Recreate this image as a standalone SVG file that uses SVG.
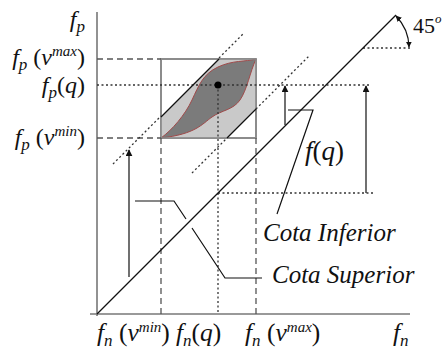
<svg xmlns="http://www.w3.org/2000/svg" width="445" height="354" viewBox="0 0 445 354">
<style>
text{font-family:'Liberation Serif','Times New Roman',serif}
.t{font-style:italic;fill:#111}
.m{font-size:24px}
.b{font-size:25.5px}
.s{font-size:17px}
.u{font-size:15px}
.r{font-style:normal}
.dash{stroke:#555;stroke-width:1.3;stroke-dasharray:6 4;fill:none}
.dot{stroke:#333;stroke-width:1.3;stroke-dasharray:2 2.5;fill:none}
.ln{stroke:#111;stroke-width:1.2;fill:none}
.ax{stroke:#777;stroke-width:1.6;fill:none}
</style>
<defs>
<marker id="ah" viewBox="0 0 10 10" refX="9" refY="5" markerWidth="7" markerHeight="7" orient="auto-start-reverse" markerUnits="userSpaceOnUse">
<path d="M0,0 L10,5 L0,10 Z" fill="#111"/>
</marker>
<marker id="as" viewBox="0 0 10 10" refX="9" refY="5" markerWidth="6" markerHeight="6" orient="auto-start-reverse" markerUnits="userSpaceOnUse">
<path d="M0,0 L10,5 L0,10 Z" fill="#111"/>
</marker>
</defs>

<g id="axes">
<line class="ax" x1="97" y1="12" x2="97" y2="316"/>
<line class="ax" x1="90" y1="314" x2="410" y2="314"/>
</g>

<g id="region">
<rect x="161" y="59" width="95" height="79" fill="#fff" stroke="#888" stroke-width="1.6"/>
<polygon points="161,138 161,117 219,59 256,59 256,108 227,138" fill="#c9c9c9"/>
<path d="M161,138 C172,130 185,115 192,100 S203,74 218,67 S245,62 256,59 C250,72 247,90 240,100 S222,110 212,117 S196,134 161,138 Z" fill="#7b7b7b" stroke="#a04a4a" stroke-width="1"/>
<rect x="161" y="59" width="95" height="79" fill="none" stroke="#888" stroke-width="1.6"/>
</g>

<g id="connectors">
<line class="dash" x1="97" y1="59" x2="161" y2="59"/>
<line class="dash" x1="97" y1="138" x2="161" y2="138"/>
<line class="dash" x1="161" y1="138" x2="161" y2="314"/>
<line class="dash" x1="256" y1="138" x2="256" y2="314"/>
<line class="dot" x1="97" y1="85" x2="370" y2="85"/>
<line class="dot" x1="218" y1="85" x2="218" y2="314"/>
<line class="dot" x1="218" y1="193" x2="373" y2="193"/>
<line class="dot" x1="363" y1="48" x2="410" y2="48"/>
<line class="dot" x1="113" y1="164" x2="161" y2="116"/>
<line class="dot" x1="219" y1="58" x2="243" y2="34"/>
<line class="dot" x1="192" y1="173" x2="227" y2="138"/>
<line class="dot" x1="256" y1="109" x2="310" y2="55"/>
<line class="ln" x1="161" y1="117" x2="219" y2="59"/>
<line class="ln" x1="227" y1="138" x2="256" y2="109"/>
<line class="ln" x1="97" y1="314" x2="396" y2="15"/>
<line class="ln" x1="129" y1="277" x2="129" y2="150" marker-end="url(#ah)"/>
<line class="ln" x1="285" y1="125" x2="285" y2="86" marker-end="url(#ah)"/>
<line class="ln" x1="366" y1="193" x2="366" y2="86" marker-end="url(#ah)"/>
<path class="ln" d="M396,16 A46,46 0 0 1 409,47" marker-start="url(#as)" marker-end="url(#as)"/>
<polyline class="ln" points="288,110 313,110 277,214"/>
<path class="ln" d="M135,201 H174 L186,219 M192,228 L225,278 H262"/>
</g>

<g id="point"><circle cx="218" cy="85" r="3.5" fill="#000"/></g>

<g id="labels">
<text class="t m" x="85" y="27" text-anchor="end">f<tspan class="s" dy="5">p</tspan></text>
<text class="t m" x="85" y="65" text-anchor="end">f<tspan class="s" dy="5">p</tspan><tspan class="r" dy="-5"> (</tspan>v<tspan class="u" dy="-9">max</tspan><tspan class="r" dy="9">)</tspan></text>
<text class="t m" x="85" y="93" text-anchor="end">f<tspan class="s" dy="5">p</tspan><tspan class="r" dy="-5">(</tspan>q<tspan class="r">)</tspan></text>
<text class="t m" x="85" y="145" text-anchor="end">f<tspan class="s" dy="5">p</tspan><tspan class="r" dy="-5"> (</tspan>v<tspan class="u" dy="-9">min</tspan><tspan class="r" dy="9">)</tspan></text>
<text class="t b" x="97" y="341">f<tspan class="s" dy="5">n</tspan><tspan class="r" dy="-5"> (</tspan>v<tspan class="u" dy="-9">min</tspan><tspan class="r" dy="9">)</tspan></text>
<text class="t b" x="176" y="341">f<tspan class="s" dy="5">n</tspan><tspan class="r" dy="-5">(</tspan>q<tspan class="r">)</tspan></text>
<text class="t b" x="245" y="341">f<tspan class="s" dy="5">n</tspan><tspan class="r" dy="-5"> (</tspan>v<tspan class="u" dy="-9">max</tspan><tspan class="r" dy="9">)</tspan></text>
<text class="t b" x="393" y="341">f<tspan class="s" dy="5">n</tspan></text>
<text class="t" x="305" y="160" font-size="27">f<tspan class="r">(</tspan>q<tspan class="r">)</tspan></text>
<text class="t" x="263" y="241" font-size="25">Cota Inferior</text>
<text class="t" x="272" y="283" font-size="25">Cota Superior</text>
<text class="t r" x="413" y="33" font-size="22">45<tspan class="t" font-size="13" dy="-10">o</tspan></text>
</g>
</svg>
